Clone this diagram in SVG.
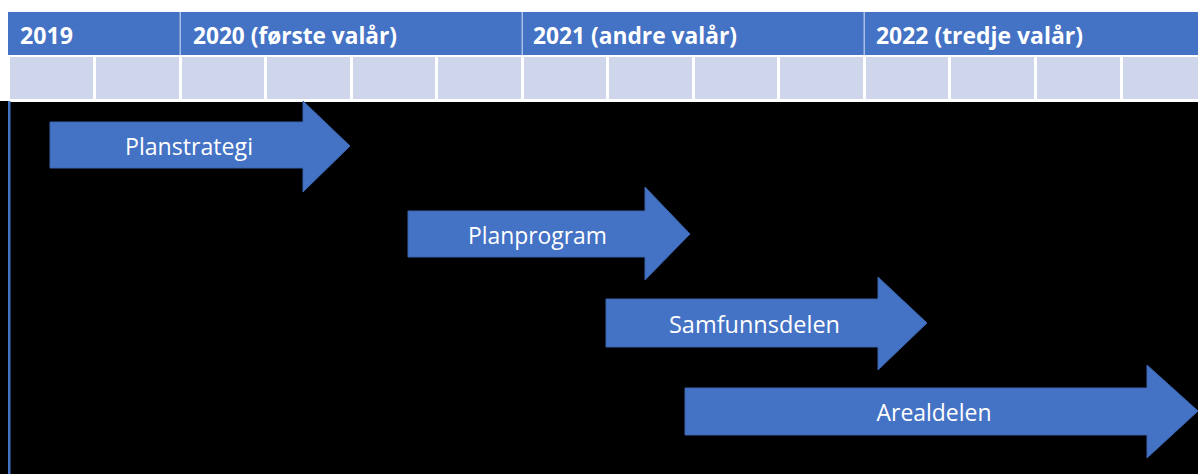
<svg xmlns="http://www.w3.org/2000/svg" width="1198" height="474" viewBox="0 0 1198 474">
<style>
.hdr{fill:#4472C4}
.cell{fill:#CFD5EA}
.yr{font-family:"Open Sans","Liberation Sans",sans-serif;font-weight:bold;font-size:22.5px;fill:#FFFFFF}
.arrow{fill:#4472C4;stroke:#3A64AE;stroke-width:1}
.lbl{font-family:"Open Sans","Liberation Sans",sans-serif;font-size:23px;fill:#FFFFFF;text-anchor:middle}
</style>
<rect x="0" y="0" width="1198" height="474" fill="#FFFFFF"/>
<rect x="0" y="101" width="1198" height="373" fill="#000000"/>
<g id="table">
<rect class="hdr" x="8" y="12" width="1190" height="43"/>
<rect x="8" y="55" width="1190" height="47" fill="#FFFFFF"/>
<rect class="cell" x="10" y="57" width="1188" height="42"/>
<g fill="#FFFFFF">
<rect x="93" y="57" width="3" height="42"/>
<rect x="179" y="57" width="3" height="42"/>
<rect x="264" y="57" width="3" height="42"/>
<rect x="350" y="57" width="3" height="42"/>
<rect x="435" y="57" width="3" height="42"/>
<rect x="521" y="57" width="3" height="42"/>
<rect x="606" y="57" width="3" height="42"/>
<rect x="692" y="57" width="3" height="42"/>
<rect x="777" y="57" width="3" height="42"/>
<rect x="863" y="57" width="3" height="42"/>
<rect x="948" y="57" width="3" height="42"/>
<rect x="1034" y="57" width="3" height="42"/>
<rect x="1120" y="57" width="3" height="42"/>
</g>
<g fill="#A9BDE6">
<rect x="179.5" y="12" width="1.5" height="43"/>
<rect x="521.5" y="12" width="1.5" height="43"/>
<rect x="863.5" y="12" width="1.5" height="43"/>
</g>
<rect class="hdr" x="8" y="101" width="2.5" height="373"/>
<text class="yr" x="20" y="44" textLength="53" lengthAdjust="spacingAndGlyphs">2019</text>
<text class="yr" x="193" y="44" textLength="204" lengthAdjust="spacingAndGlyphs">2020 (første valår)</text>
<text class="yr" x="533" y="44" textLength="204" lengthAdjust="spacingAndGlyphs">2021 (andre valår)</text>
<text class="yr" x="876" y="44" textLength="207" lengthAdjust="spacingAndGlyphs">2022 (tredje valår)</text>
</g>
<g id="planstrategi">
<path class="arrow" d="M50,122 H303 V101 L350,146 L303,192 V168 H50 Z"/>
<text class="lbl" x="189" y="155" textLength="128" lengthAdjust="spacingAndGlyphs">Planstrategi</text>
</g>
<g id="planprogram">
<path class="arrow" d="M408,211 H645 V187 L690,234 L645,280 V257 H408 Z"/>
<text class="lbl" x="537.5" y="244" textLength="139" lengthAdjust="spacingAndGlyphs">Planprogram</text>
</g>
<g id="samfunnsdelen">
<path class="arrow" d="M606,299 H878 V277 L927,323 L878,370 V347 H606 Z"/>
<text class="lbl" x="754.5" y="333" textLength="171" lengthAdjust="spacingAndGlyphs">Samfunnsdelen</text>
</g>
<g id="arealdelen">
<path class="arrow" d="M685,388 H1147 V365 L1198,411 L1147,458 V435 H685 Z"/>
<text class="lbl" x="934" y="421" textLength="115" lengthAdjust="spacingAndGlyphs">Arealdelen</text>
</g>
<g id="connectors"></g>
</svg>
